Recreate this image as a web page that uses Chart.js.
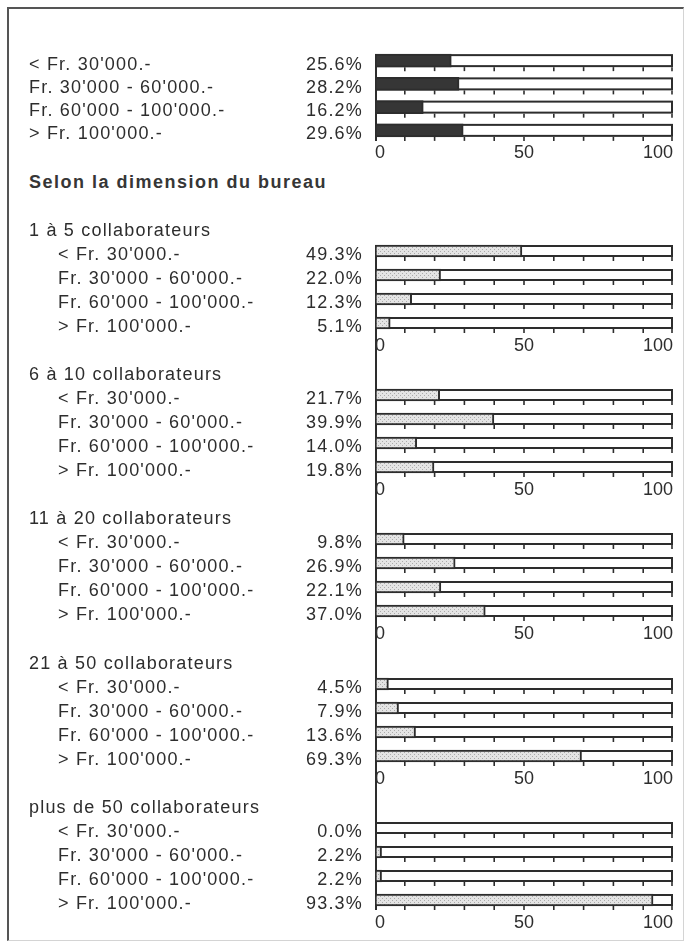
<!DOCTYPE html>
<html>
<head>
<meta charset="utf-8">
<script src="https://cdn.jsdelivr.net/npm/chart.js@4.4.1/dist/chart.umd.min.js"></script>
<style>
  body { margin: 0; width: 687px; height: 944px; background: #fff; position: relative; overflow: hidden; }
  .frame { position: absolute; left: 7px; top: 7px; width: 677px; height: 934px; box-sizing: border-box;
           border-top: 2px solid #555; border-left: 2px solid #555; border-right: 1px solid #d4d4d4; border-bottom: 1px solid #d4d4d4; }
  canvas { position: absolute; left: 0; }
  .head { position: absolute; left: 29px; top: 172px; font: bold 18px "Liberation Sans", Arial, sans-serif;
          letter-spacing: 1.5px; color: #363636; white-space: nowrap; }
</style>
</head>
<body>
<div class="frame"></div>
<canvas id="all" width="687" height="170" style="top:0px"></canvas>
<div class="head">Selon la dimension du bureau</div>
<canvas id="g1" width="687" height="170" style="top:199px"></canvas>
<canvas id="g2" width="687" height="170" style="top:343px"></canvas>
<canvas id="g3" width="687" height="170" style="top:487px"></canvas>
<canvas id="g4" width="687" height="170" style="top:632px"></canvas>
<canvas id="g5" width="687" height="170" style="top:776px"></canvas>
<script>
// categories
const incomeBands = ["< Fr. 30'000.-", "Fr. 30'000 - 60'000.-", "Fr. 60'000 - 100'000.-", "> Fr. 100'000.-"];
const groupNames = ["1 à 5 collaborateurs", "6 à 10 collaborateurs", "11 à 20 collaborateurs",
                    "21 à 50 collaborateurs", "plus de 50 collaborateurs"];
// values (%)
const allOffices = [25.6, 28.2, 16.2, 29.6];
const size1to5 = [49.3, 22.0, 12.3, 5.1];
const size6to10 = [21.7, 39.9, 14.0, 19.8];
const size11to20 = [9.8, 26.9, 22.1, 37.0];
const size21to50 = [4.5, 7.9, 13.6, 69.3];
const size50plus = [0.0, 2.2, 2.2, 93.3];
// axis
const axisTicks = [0, 50, 100];
const minorStep = 10;

const ink = '#2d2d2d';
const FONT = '"Liberation Sans", Arial, sans-serif';

function stipple() {
  var c = document.createElement('canvas');
  c.width = 4; c.height = 4;
  var g = c.getContext('2d');
  g.fillStyle = '#e4e4e4'; g.fillRect(0, 0, 4, 4);
  g.fillStyle = '#ababab'; g.fillRect(0, 0, 1, 1); g.fillRect(2, 2, 1, 1);
  return g.createPattern(c, 'repeat');
}

// white frame 0-100 behind each bar, small ticks under it, the axis line and the text columns
const panel = {
  id: 'panel',
  beforeDatasetsDraw(chart, args, o) {
    var ctx = chart.ctx, x = chart.scales.x;
    var meta = chart.getDatasetMeta(0);
    var x0 = x.getPixelForValue(0), x1 = x.getPixelForValue(100);
    ctx.save();
    meta.data.forEach(function(bar) {
      var top = bar.y - bar.height / 2, h = bar.height;
      ctx.fillStyle = ink;
      ctx.fillRect(x0, top, x1 - x0, h);
      ctx.fillStyle = '#fff';
      ctx.fillRect(x0 + 2, top + 2, x1 - x0 - 4, h - 4);
      ctx.strokeStyle = ink;
      ctx.lineWidth = 1.6;
      for (var v = minorStep; v <= 100; v += minorStep) {
        var px = Math.min(x.getPixelForValue(v), x1 - 1);
        ctx.beginPath();
        ctx.moveTo(px, top + h);
        ctx.lineTo(px, top + h + 4);
        ctx.stroke();
      }
    });
    var first = meta.data[0], last = meta.data[meta.data.length - 1];
    var yA = o.lineFrom === 'top' ? 0 : first.y - first.height / 2;
    var yB = o.lineTo === 'bottom' ? chart.height : last.y + last.height / 2 + 4;
    ctx.lineWidth = 2;
    ctx.beginPath();
    ctx.moveTo(x0 + 1, yA);
    ctx.lineTo(x0 + 1, yB);
    ctx.stroke();
    ctx.restore();
  },
  afterDraw(chart, args, o) {
    var ctx = chart.ctx, meta = chart.getDatasetMeta(0);
    var vals = chart.data.datasets[0].data;
    ctx.save();
    ctx.fillStyle = ink;
    ctx.font = '18px ' + FONT;
    ctx.letterSpacing = '1.2px';
    ctx.textBaseline = 'alphabetic';
    if (o.title) {
      ctx.textAlign = 'left';
      ctx.fillText(o.title, 29, meta.data[0].y - 15);
    }
    meta.data.forEach(function(bar, i) {
      ctx.textAlign = 'left';
      ctx.fillText(chart.data.labels[i], o.indent, bar.y + 9);
      ctx.textAlign = 'right';
      ctx.fillText(vals[i].toFixed(1) + '%', 363, bar.y + 9);
    });
    ctx.restore();
  }
};

function makeChart(id, values, fill, cfg) {
  return new Chart(document.getElementById(id), {
    type: 'bar',
    data: {
      labels: incomeBands,
      datasets: [{
        data: values,
        backgroundColor: fill,
        borderColor: ink,
        borderWidth: 2,
        borderSkipped: false,
        barThickness: cfg.thick
      }]
    },
    options: {
      indexAxis: 'y',
      responsive: false,
      animation: false,
      events: [],
      layout: { padding: { left: 375, right: 14, top: cfg.padTop, bottom: cfg.padBottom } },
      scales: {
        x: {
          min: 0, max: 100,
          afterBuildTicks: function(s) { s.ticks = axisTicks.map(function(v) { return { value: v }; }); },
          afterFit: function(s) { s.height = 22; },
          grid: { display: false, drawTicks: false },
          border: { display: false },
          ticks: { align: 'inner', padding: 0, color: ink, font: { family: FONT, size: 18 } }
        },
        y: { display: false }
      },
      plugins: {
        legend: { display: false },
        tooltip: { enabled: false },
        panel: { title: cfg.title, indent: cfg.indent, lineFrom: cfg.lineFrom, lineTo: cfg.lineTo }
      }
    },
    plugins: [panel]
  });
}

makeChart('all', allOffices, '#363636',
  { thick: 13, padTop: 49, padBottom: 6, indent: 29, lineFrom: 'bars', lineTo: 'ticks' });

var dotted = stipple();
var sizeSeries = [size1to5, size6to10, size11to20, size21to50, size50plus];
sizeSeries.forEach(function(vals, k) {
  makeChart('g' + (k + 1), vals, dotted, {
    thick: 12, padTop: 40, padBottom: 12, indent: 58, title: groupNames[k],
    lineFrom: k === 0 ? 'bars' : 'top',
    lineTo: k === sizeSeries.length - 1 ? 'ticks' : 'bottom'
  });
});
</script>
</body>
</html>
